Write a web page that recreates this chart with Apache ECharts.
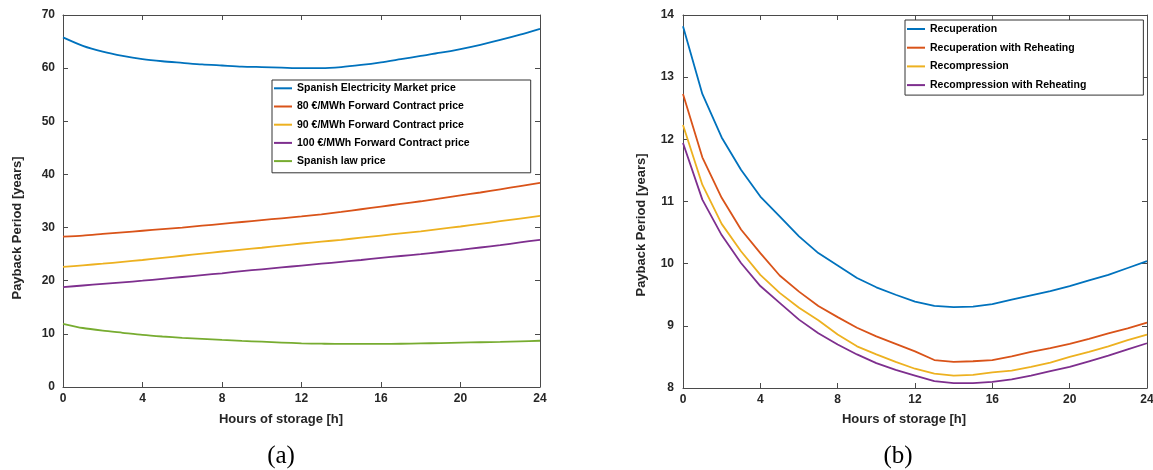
<!DOCTYPE html>
<html>
<head>
<meta charset="utf-8">
<script src="https://cdn.jsdelivr.net/npm/echarts@6/dist/echarts.min.js"></script>
<style>
html,body{margin:0;padding:0;background:#fff;}
#c{width:1153px;height:470px;}
</style>
</head>
<body>
<div id="c"></div>
<script>
// ---- data ----
const hours = [0,1,2,3,4,5,6,7,8,9,10,11,12,13,14,15,16,17,18,19,20,21,22,23,24];

// (a) payback period by price scenario
const marketPrice   = [65.8,64.2,63.1,62.3,61.7,61.3,61.0,60.7,60.5,60.3,60.2,60.1,60.0,60.0,60.2,60.6,61.1,61.7,62.3,62.9,63.6,64.4,65.3,66.3,67.4];
const forward80     = [28.3,28.5,28.8,29.1,29.4,29.7,30.0,30.35,30.7,31.05,31.4,31.75,32.1,32.5,32.95,33.45,33.95,34.45,34.95,35.5,36.05,36.6,37.2,37.8,38.4];
const forward90     = [22.6,22.9,23.2,23.55,23.9,24.3,24.7,25.1,25.5,25.85,26.2,26.6,27.0,27.35,27.7,28.1,28.5,28.9,29.3,29.75,30.2,30.7,31.2,31.7,32.2];
const forward100    = [18.8,19.1,19.4,19.7,20.0,20.35,20.7,21.05,21.4,21.8,22.15,22.5,22.85,23.2,23.55,23.9,24.3,24.65,25.0,25.4,25.8,26.25,26.7,27.2,27.7];
const lawPrice      = [11.9,11.1,10.6,10.2,9.8,9.5,9.25,9.05,8.85,8.68,8.52,8.36,8.22,8.15,8.1,8.1,8.1,8.14,8.2,8.26,8.34,8.42,8.5,8.6,8.7];

// (b) payback period by cycle configuration
const recuperation         = [13.82,12.73,12.03,11.51,11.08,10.76,10.44,10.17,9.97,9.77,9.62,9.50,9.39,9.32,9.30,9.31,9.35,9.42,9.49,9.56,9.64,9.73,9.82,9.93,10.04];
const recuperationReheat   = [12.73,11.71,11.06,10.55,10.17,9.81,9.55,9.32,9.14,8.97,8.83,8.71,8.59,8.45,8.42,8.43,8.45,8.51,8.58,8.64,8.71,8.79,8.88,8.96,9.05];
const recompression        = [12.23,11.27,10.64,10.20,9.82,9.53,9.29,9.09,8.86,8.67,8.54,8.42,8.31,8.23,8.20,8.21,8.25,8.28,8.34,8.41,8.50,8.58,8.67,8.77,8.86];
const recompressionReheat  = [11.94,11.03,10.46,10.01,9.64,9.37,9.10,8.88,8.70,8.54,8.40,8.29,8.20,8.11,8.08,8.08,8.10,8.14,8.20,8.27,8.34,8.43,8.52,8.62,8.72];

const namesA = ['Spanish Electricity Market price','80 €/MWh Forward Contract price','90 €/MWh Forward Contract price','100 €/MWh Forward Contract price','Spanish law price'];
const valuesA = [marketPrice, forward80, forward90, forward100, lawPrice];
const namesB = ['Recuperation','Recuperation with Reheating','Recompression','Recompression with Reheating'];
const valuesB = [recuperation, recuperationReheat, recompression, recompressionReheat];

const xTicks = {min:0, max:24, interval:4};
const yTicksA = {min:0, max:70, interval:10};
const yTicksB = {min:8, max:14, interval:1};
const xName = 'Hours of storage [h]';
const yName = 'Payback Period [years]';
const panelLabels = ['(a)','(b)'];

// ---- styles ----
const colors = ['#0072BD','#D95319','#EDB120','#7E2F8E','#77AC30'];
const FONT = "'Liberation Sans', Arial, Helvetica, sans-serif";
const axisColor = '#4a4a4a';
const textColor = '#262626';

function axisCommon(extra){
  return Object.assign({
    type:'value',
    axisLine:{show:true, onZero:false, lineStyle:{color:axisColor, width:1}},
    axisTick:{show:true, inside:true, length:5, lineStyle:{color:axisColor, width:1}},
    splitLine:{show:false},
    axisLabel:{show:true, color:textColor, fontFamily:FONT, fontWeight:'bold', fontSize:12}
  }, extra);
}
function tickLabel(margin){
  return {show:true, color:textColor, fontFamily:FONT, fontWeight:'bold', fontSize:12, margin:margin};
}

const chart = echarts.init(document.getElementById('c'), null, {renderer:'canvas'});

const series = [];
namesA.forEach((n,i)=>{
  series.push({name:n, type:'line', xAxisIndex:0, yAxisIndex:0, symbol:'none', smooth:0.25,
    lineStyle:{width:1.8, color:colors[i]}, itemStyle:{color:colors[i]},
    data: hours.map((h,k)=>[h, valuesA[i][k]])});
});
namesB.forEach((n,i)=>{
  series.push({name:n, type:'line', xAxisIndex:2, yAxisIndex:2, symbol:'none', smooth:false,
    lineStyle:{width:1.8, color:colors[i]}, itemStyle:{color:colors[i]},
    data: hours.map((h,k)=>[h, valuesB[i][k]])});
});

const legendText = {fontFamily:FONT, fontWeight:'bold', fontSize:10.5, color:'#000', lineHeight:12};

const option = {
  animation:false,
  backgroundColor:'#fff',
  grid:[
    {left:63, right:613, top:15, bottom:83, containLabel:false, outerBoundsMode:'none'},
    {left:683, right:6, top:15, bottom:82, containLabel:false, outerBoundsMode:'none'}
  ],
  xAxis:[
    axisCommon(Object.assign({gridIndex:0, position:'bottom', axisLabel:tickLabel(6)}, xTicks)),
    axisCommon(Object.assign({gridIndex:0, position:'top', axisLabel:{show:false}}, xTicks)),
    axisCommon(Object.assign({gridIndex:1, position:'bottom', axisLabel:tickLabel(6)}, xTicks)),
    axisCommon(Object.assign({gridIndex:1, position:'top', axisLabel:{show:false}}, xTicks))
  ],
  yAxis:[
    axisCommon(Object.assign({gridIndex:0, position:'left', axisLabel:tickLabel(8)}, yTicksA)),
    axisCommon(Object.assign({gridIndex:0, position:'right', axisLabel:{show:false}}, yTicksA)),
    axisCommon(Object.assign({gridIndex:1, position:'left', axisLabel:tickLabel(9)}, yTicksB)),
    axisCommon(Object.assign({gridIndex:1, position:'right', axisLabel:{show:false}}, yTicksB))
  ],
  legend:[
    {data:namesA, orient:'vertical', left:272, top:80, icon:'rect', itemWidth:18, itemHeight:2, itemGap:6.2,
     padding:[2.3,61,5.7,2], borderColor:'#333', borderWidth:1, backgroundColor:'#fff',
     textStyle:legendText, selectedMode:false},
    {data:namesB, orient:'vertical', left:905, top:20, icon:'rect', itemWidth:18, itemHeight:2, itemGap:6.7,
     padding:[3,57,4,2], borderColor:'#333', borderWidth:1, backgroundColor:'#fff',
     textStyle:legendText, selectedMode:false}
  ],
  graphic:[
    {type:'text', x:281, y:419, style:{text:xName, font:"bold 13px "+FONT, fill:textColor, textAlign:'center', textVerticalAlign:'middle'}},
    {type:'text', x:904, y:419, style:{text:xName, font:"bold 13px "+FONT, fill:textColor, textAlign:'center', textVerticalAlign:'middle'}},
    {type:'text', x:17, y:228, rotation:Math.PI/2, style:{text:yName, font:"bold 13px "+FONT, fill:textColor, textAlign:'center', textVerticalAlign:'middle'}},
    {type:'text', x:641, y:225, rotation:Math.PI/2, style:{text:yName, font:"bold 13px "+FONT, fill:textColor, textAlign:'center', textVerticalAlign:'middle'}},
    {type:'text', x:281, y:456, style:{text:panelLabels[0], font:"25px 'Liberation Serif', 'Times New Roman', serif", fill:'#000', textAlign:'center', textVerticalAlign:'middle'}},
    {type:'text', x:898, y:456, style:{text:panelLabels[1], font:"25px 'Liberation Serif', 'Times New Roman', serif", fill:'#000', textAlign:'center', textVerticalAlign:'middle'}}
  ],
  series: series
};
chart.setOption(option);
</script>
</body>
</html>
